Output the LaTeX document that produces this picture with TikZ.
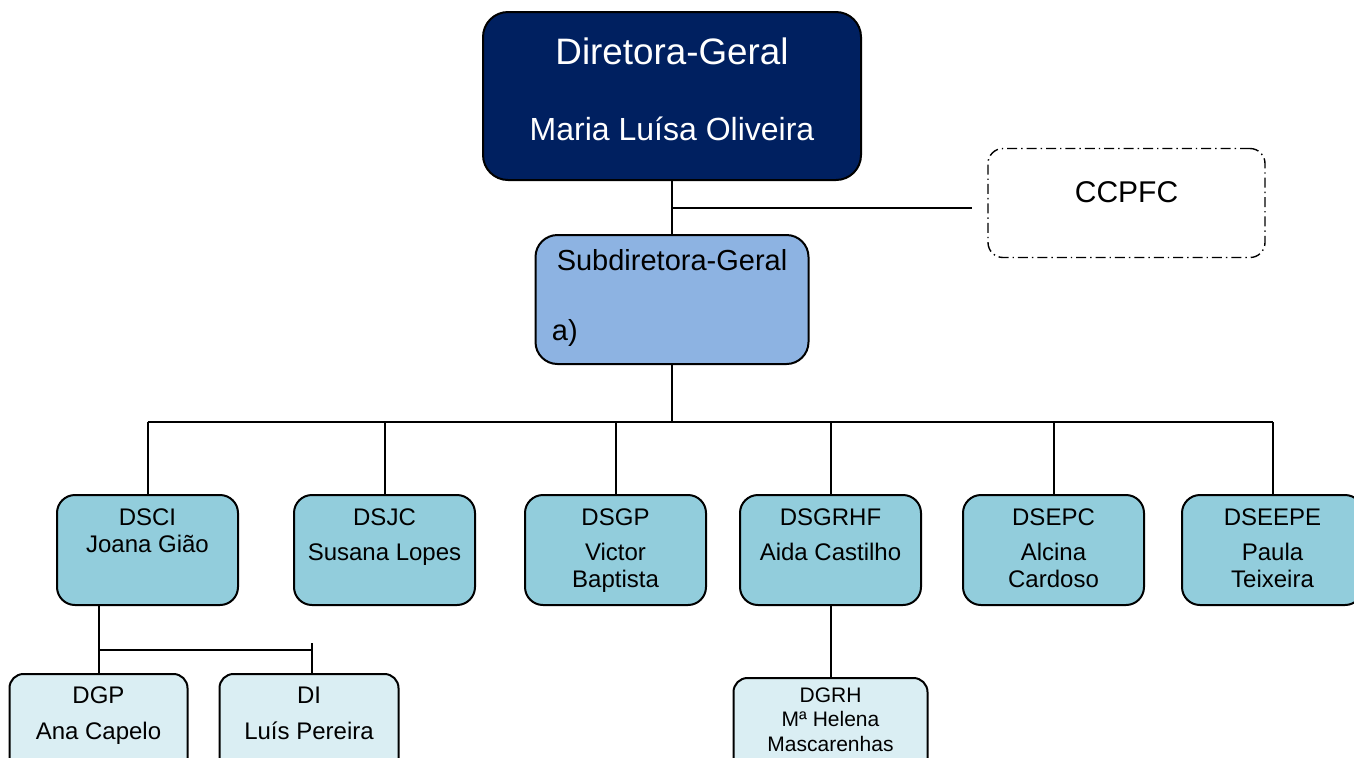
\documentclass[tikz,border=0pt]{standalone}
\usepackage{fontspec}
\setmainfont{Liberation Sans}
\usetikzlibrary{positioning, calc}
\definecolor{dgnavy}{HTML}{002060}
\definecolor{sdgblue}{HTML}{8DB3E2}
\definecolor{dsteal}{HTML}{92CDDC}
\definecolor{divpale}{HTML}{DAEEF3}

\begin{document}
\begin{tikzpicture}[
        box/.style={draw, line width=1pt, outer sep=0pt, inner sep=0pt},
        dept/.style={box, rounded corners=9pt, fill=dsteal, minimum width=90.5pt, minimum height=55pt},
        divi/.style={box, rounded corners=7pt, fill=divpale, minimum width=89pt, minimum height=55pt},
        lbl/.style={inner sep=0pt, align=center, font=\fontsize{12}{13.5}\selectfont},
        big/.style={inner sep=0pt, font=\fontsize{14.5}{17}\selectfont},
        link/.style={line width=1pt}
    ]
        \useasboundingbox (0,0) rectangle (677pt,-378.5pt);
        \clip (0,0) rectangle (677pt,-378.5pt);

        % top of the chart
        \node [box, fill=dgnavy, rounded corners=12.5pt, minimum width=189pt, minimum height=84pt] (dg) at (336pt,-48pt) {};
        \node [inner sep=0pt, anchor=base, text=white, font=\fontsize{18.4}{22}\selectfont] (dg-title) at ([yshift=-26pt]dg.north) {Diretora-Geral};
        \node [inner sep=0pt, anchor=base, text=white, font=\fontsize{16}{19}\selectfont] (dg-name) at ([yshift=-64pt]dg.north) {Maria Luísa Oliveira};

        \node [box, fill=sdgblue, rounded corners=11pt, minimum width=136.5pt, minimum height=64.5pt, below=27.5pt of dg] (sdg) {};
        \node [big, anchor=base] (sdg-title) at ([yshift=-17.5pt]sdg.north) {Subdiretora-Geral};
        \node [big, anchor=base west] (sdg-note) at ([xshift=8pt, yshift=12pt]sdg.south west) {a)};

        \node [draw, line width=0.7pt, dash pattern=on 5pt off 2pt on 0.7pt off 2pt, rounded corners=7.5pt, outer sep=0pt, minimum width=138.5pt, minimum height=54.5pt] (ccpfc) at (563.25pt,-101.5pt) {};
        \node [inner sep=0pt, anchor=base, font=\fontsize{15}{18}\selectfont] (ccpfc-t) at ([yshift=0.5pt]ccpfc.center) {CCPFC};

        % services
        \node [dept] (dsci) at (73.75pt,-275pt) {};
        \node [dept, right=28pt of dsci] (dsjc) {};
        \node [dept, right=25pt of dsjc] (dsgp) {};
        \node [dept, right=17pt of dsgp] (dsgrhf) {};
        \node [dept, right=21pt of dsgrhf] (dsepc) {};
        \node [dept, right=19pt of dsepc] (dseepe) {};
        \foreach \n/\t in {dsci/{DSCI\\Joana Gião}, dsjc/{DSJC\\[4pt]Susana Lopes}, dsgp/{DSGP\\[4pt]Victor\\Baptista},
                dsgrhf/{DSGRHF\\[4pt]Aida Castilho}, dsepc/{DSEPC\\[4pt]Alcina\\Cardoso}, dseepe/{DSEEPE\\[4pt]Paula\\Teixeira}}
            \node [lbl, anchor=north] (\n-t) at ([yshift=-6.5pt]\n.north) {\t};

        % divisions
        \node [divi, below=34.5pt of dsci.south, xshift=-24.5pt] (dgp) {};
        \node [divi, minimum width=89.5pt, right=16pt of dgp] (di) {};
        \node [divi, minimum width=97pt, below=36.5pt of dsgrhf] (dgrh) {};
        \node [lbl, anchor=north] (dgp-t) at ([yshift=-6.3pt]dgp.north) {DGP\\[4.3pt]Ana Capelo};
        \node [lbl, anchor=north] (di-t) at ([yshift=-6.3pt]di.north) {DI\\[4.3pt]Luís Pereira};
        \node [lbl, anchor=north, font=\fontsize{10.5}{12.3}\selectfont] (dgrh-t) at ([yshift=-4.5pt]dgrh.north) {DGRH\\Mª Helena\\Mascarenhas};

        % connectors
        \draw [link] (dg) -- (sdg);
        \coordinate (side) at ($(dg.south)!0.5!(sdg.north)$);
        \draw [link] (side) -- ([xshift=-8pt]side -| ccpfc.west);
        \coordinate (bus) at ([yshift=-29pt]sdg.south);
        \draw [link] (sdg) -- (bus);
        \draw [link] (bus -| dsci.north) -- (bus -| dseepe.north);
        \foreach \n in {dsci, dsjc, dsgp, dsgrhf, dsepc, dseepe}
            \draw [link] (bus -| \n.north) -- (\n.north);
        \draw [link] (dgp.north |- dsci.south) -- (dgp.north);
        \coordinate (fork) at ([yshift=12pt]dgp.north);
        \draw [link] (fork) -- ([xshift=1.25pt]fork -| di.north);
        \draw [link] ([xshift=1.25pt, yshift=3.5pt]fork -| di.north) -- ([xshift=1.25pt]di.north);
        \draw [link] (dsgrhf) -- (dgrh);
\end{tikzpicture}
\end{document}
